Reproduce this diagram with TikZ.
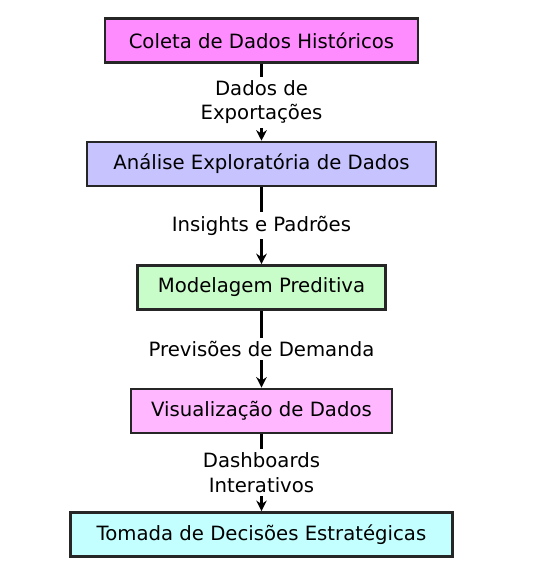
\documentclass[tikz,border=0pt]{standalone}
\usepackage{fontspec}
\setmainfont{DejaVu Sans}
\usetikzlibrary{positioning,arrows.meta}
\definecolor{rosaforte}{HTML}{FF8CFF}
\definecolor{lavanda}{HTML}{C6C3FF}
\definecolor{verdeclaro}{HTML}{C8FCC8}
\definecolor{rosaclaro}{HTML}{FFB8FF}
\definecolor{cianoclaro}{HTML}{C4FFFF}

\begin{document}
\begin{tikzpicture}[
node distance=1.54cm,
fase/.style={draw=black!85,line width=1.4pt,minimum height=0.88cm,align=center,font=\fontsize{11.2}{14}\selectfont},
rotulo/.style={fill=white,align=center,inner sep=2pt,font=\fontsize{11.2}{14}\selectfont},
>={Stealth[length=6pt,width=6pt]}]
\useasboundingbox (-5.23,0.81) rectangle (5.43,-10.87);
\node (coleta) [fase,fill=rosaforte,minimum width=6.26cm] at (0,0) {Coleta de Dados Históricos};
\node (analise) [fase,fill=lavanda,minimum width=6.98cm,below=of coleta] {Análise Exploratória de Dados};
\node (modelo) [fase,fill=verdeclaro,minimum width=4.96cm,below=of analise] {Modelagem Preditiva};
\node (visual) [fase,fill=rosaclaro,minimum width=5.22cm,below=of modelo] {Visualização de Dados};
\node (decisao) [fase,fill=cianoclaro,minimum width=7.64cm,below=of visual] {Tomada de Decisões Estratégicas};
\draw[->,line width=1.4pt] (coleta)--(analise) node[rotulo,midway] {Dados de\\Exportações};
\draw[->,line width=1.4pt] (analise)--(modelo) node[rotulo,midway] {Insights e Padrões};
\draw[->,line width=1.4pt] (modelo)--(visual) node[rotulo,midway] {Previsões de Demanda};
\draw[->,line width=1.4pt] (visual)--(decisao) node[rotulo,midway] {Dashboards\\Interativos};
\end{tikzpicture}
\end{document}
